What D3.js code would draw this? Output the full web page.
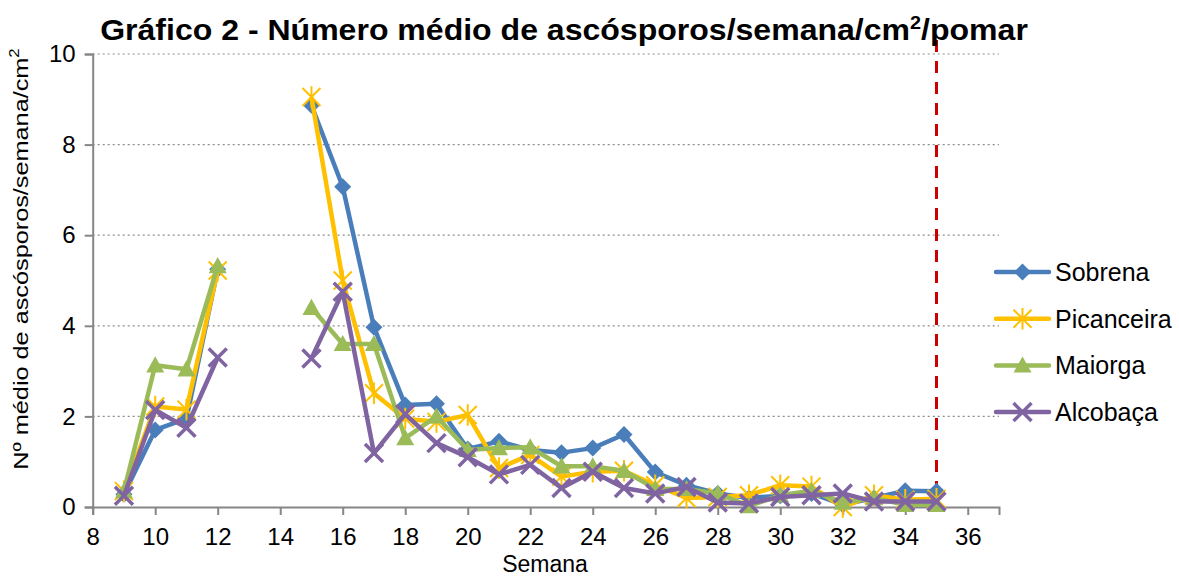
<!DOCTYPE html>
<html><head><meta charset="utf-8">
<script src="https://cdn.jsdelivr.net/npm/d3@7"></script>
<style>body{margin:0;background:#fff;font-family:"Liberation Sans",Arial,sans-serif}</style>
</head><body><svg id="c" width="1179" height="577"></svg>
<script>
const weeks = [9,10,11,12,13,14,15,16,17,18,19,20,21,22,23,24,25,26,27,28,29,30,31,32,33,34,35];
const sobrena    = [0.28,1.70,1.95,5.25,null,null,8.87,7.07,3.97,2.25,2.28,1.28,1.45,1.26,1.20,1.30,1.60,0.77,0.48,0.30,0.20,0.25,0.30,0.05,0.20,0.36,0.35];
const picanceira = [0.35,2.22,2.15,5.22,null,null,9.05,5.00,2.51,1.95,1.88,2.03,0.86,1.15,0.67,0.78,0.80,0.48,0.20,0.22,0.26,0.48,0.45,0.00,0.26,0.16,0.18];
const maiorga    = [0.35,3.13,3.04,5.32,null,null,4.40,3.60,3.60,1.52,2.00,1.26,1.30,1.32,0.90,0.90,0.80,0.40,0.40,0.30,0.02,0.26,0.36,0.10,0.20,0.05,0.05];
const alcobaca   = [0.25,2.14,1.75,3.30,null,null,3.28,4.75,1.19,2.05,1.41,1.10,0.72,0.93,0.42,0.78,0.42,0.30,0.44,0.10,0.08,0.22,0.26,0.30,0.12,0.12,0.12];
const seriesNames = ["Sobrena","Picanceira","Maiorga","Alcobaça"];
const xTicks = [8,10,12,14,16,18,20,22,24,26,28,30,32,34,36];
const yTicks = [0,2,4,6,8,10];
const markerLine = 35;

const colors = ["#4A7EBB","#FFC000","#9BBB59","#8064A2"];
const markers = ["diamond","star","triangle","x"];
const data = [sobrena,picanceira,maiorga,alcobaca];
const FONT = "Liberation Sans, Arial, sans-serif";

const svg = d3.select("#c");
const x = d3.scaleLinear().domain([8,37]).range([92.7,999]);
const y = d3.scaleLinear().domain([0,10]).range([507,54]);
const axisCol = "#868686";

// gridlines
svg.append("g").selectAll("line").data(yTicks.filter(d=>d>0)).join("line")
  .attr("x1",x(8)).attr("x2",x(37)).attr("y1",d=>y(d)).attr("y2",d=>y(d))
  .attr("stroke","#8c8c8c").attr("stroke-width",1.2).attr("stroke-dasharray","2,3");

// y axis
const ya = svg.append("g").attr("transform",`translate(${x(8)},0)`)
  .call(d3.axisLeft(y).tickValues(yTicks).tickSize(8).tickPadding(9).tickFormat(d3.format("d")));
ya.select(".domain").attr("stroke",axisCol).attr("stroke-width",2);
ya.selectAll(".tick line").attr("stroke",axisCol).attr("stroke-width",2);
ya.selectAll("text").attr("font-size",24).attr("fill","#000").attr("font-family",FONT);

// x axis
const xa = svg.append("g").attr("transform",`translate(0,${y(0)})`)
  .call(d3.axisBottom(x).tickValues(xTicks).tickSize(8).tickPadding(13).tickFormat(d3.format("d")));
xa.select(".domain").attr("stroke",axisCol).attr("stroke-width",2);
xa.selectAll(".tick line").attr("stroke",axisCol).attr("stroke-width",2);
xa.selectAll("text").attr("font-size",24).attr("fill","#000").attr("font-family",FONT);

// red dashed line
svg.append("line").attr("x1",x(markerLine)).attr("x2",x(markerLine)).attr("y1",y(10)-14).attr("y2",y(0))
  .attr("stroke","#CC0000").attr("stroke-width",3).attr("stroke-dasharray","12,9");

function drawMarker(g, type, color, cx, cy, s){
  if(type==="diamond"){
    g.append("path").attr("d",`M${cx},${cy-s}L${cx+s},${cy}L${cx},${cy+s}L${cx-s},${cy}Z`).attr("fill",color);
  } else if(type==="triangle"){
    g.append("path").attr("d",`M${cx},${cy-s}L${cx+s},${cy+s*0.8}L${cx-s},${cy+s*0.8}Z`).attr("fill",color);
  } else if(type==="x"){
    g.append("path").attr("d",`M${cx-s},${cy-s}L${cx+s},${cy+s}M${cx-s},${cy+s}L${cx+s},${cy-s}`)
      .attr("stroke",color).attr("stroke-width",3.5);
  } else if(type==="star"){
    g.append("path").attr("d",`M${cx-s},${cy-s}L${cx+s},${cy+s}M${cx-s},${cy+s}L${cx+s},${cy-s}M${cx},${cy-s*1.2}L${cx},${cy+s*1.2}`)
      .attr("stroke",color).attr("stroke-width",2);
  }
}

const line = d3.line().defined(d=>d[1]!==null).x(d=>x(d[0])).y(d=>y(d[1]));
const sizes = {diamond:8.5, triangle:9, x:9, star:9};
data.forEach((vals,i)=>{
  const pts = weeks.map((w,j)=>[w,vals[j]]);
  const g = svg.append("g");
  g.append("path").datum(pts).attr("d",line).attr("fill","none").attr("stroke",colors[i])
    .attr("stroke-width",4.5).attr("stroke-linejoin","round");
  pts.filter(p=>p[1]!==null).forEach(p=>drawMarker(g,markers[i],colors[i],x(p[0]),y(p[1]),sizes[markers[i]]));
});

// legend
const lg = svg.append("g");
seriesNames.forEach((n,i)=>{
  const ly = 272 + i*46.7;
  lg.append("line").attr("x1",996).attr("x2",1049).attr("y1",ly).attr("y2",ly)
    .attr("stroke",colors[i]).attr("stroke-width",4.5).attr("stroke-linecap","round");
  drawMarker(lg,markers[i],colors[i],1022.5,ly,sizes[markers[i]]);
  lg.append("text").attr("x",1055).attr("y",ly+9).attr("font-size",25).attr("font-family",FONT).text(n);
});

function fitWidth(sel, target){
  const w = sel.node().getBBox().width;
  return target / w;
}

// title
const tg = svg.append("g");
const t = tg.append("text").attr("x",0).attr("y",0).attr("text-anchor","middle")
  .attr("font-size",29).attr("font-weight","bold").attr("font-family",FONT);
t.append("tspan").text("Gráfico 2 - Número médio de ascósporos/semana/cm");
t.append("tspan").attr("font-size",18).attr("dy",-11).text("2");
t.append("tspan").attr("dy",11).text("/pomar");
tg.attr("transform",`translate(564,40) scale(${fitWidth(t,928)},1)`);

// axis titles
svg.append("text").attr("x",545).attr("y",572).attr("text-anchor","middle").attr("font-size",23).attr("font-family",FONT).text("Semana");
const yg = svg.append("g");
const yl = yg.append("text").attr("x",0).attr("y",0).attr("text-anchor","middle").attr("font-size",21).attr("font-family",FONT);
yl.append("tspan").text("Nº médio de ascósporos/semana/cm");
yl.append("tspan").attr("font-size",14).attr("dy",-9).text("2");
yg.attr("transform",`translate(28,259) rotate(-90) scale(${fitWidth(yl,422)},1)`);
</script></body></html>
